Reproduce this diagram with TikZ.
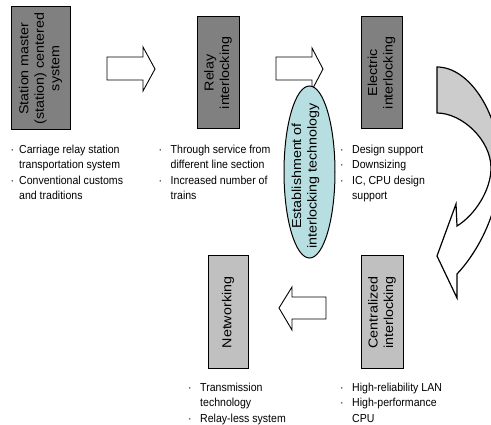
\documentclass[tikz,border=0pt]{standalone}
\usepackage{fontspec}
\setmainfont{Liberation Sans}
\newfontfamily\hfont[FakeStretch=0.91]{Liberation Sans}
\newfontfamily\vfont[FakeStretch=1.1]{Liberation Sans}
\usetikzlibrary{shapes.geometric}
\definecolor{darkfill}{RGB}{128,128,128}
\definecolor{lightfill}{RGB}{192,192,192}
\definecolor{arrowgray}{RGB}{204,204,204}
\definecolor{estfill}{RGB}{183,222,224}
\newcommand{\bl}[1]{\llap{·\hspace{#1pt}}}
\begin{document}
\begin{tikzpicture}[x=1pt,y=-1pt,line join=miter,
  dbox/.style={draw=black,line width=1pt,fill=darkfill,inner sep=0pt},
  lbox/.style={draw=black,line width=1pt,fill=lightfill,inner sep=0pt},
  vtext/.style={rotate=90,align=center,inner sep=0pt,font=\vfont\fontsize{13}{15.5}\selectfont},
  btext/.style={anchor=north west,align=left,inner sep=0pt,font=\hfont\fontsize{11.6}{15.5}\selectfont},
  blockarrow/.style={draw=black,line width=0.9pt,fill=white}]
\useasboundingbox (0,0) rectangle (491,425);
% curved arrow
\begin{scope}
\clip (0,0) rectangle (491,425);
\fill[arrowgray] (437,67) .. controls (470,67) and (500,115) .. (500,165) -- (491,168) .. controls (491,140) and (462,113) .. (437,113) -- cycle;
\fill[white] (491,168) .. controls (491,190) and (475,215) .. (457,226) -- (456,204) -- (437,256) -- (457,298) -- (457,274) .. controls (475,255) and (500,215) .. (500,165) -- cycle;
\draw[line width=1.2pt] (437,113) -- (437,67) .. controls (470,67) and (500,115) .. (500,165) .. controls (500,215) and (475,255) .. (457,274) -- (457,298) -- (437,256) -- (456,204) -- (457,226) .. controls (475,215) and (491,190) .. (491,168) .. controls (491,140) and (462,113) .. (437,113) -- cycle;
\end{scope}
% boxes
\node[dbox,minimum width=59,minimum height=123] (sm) at (40.5,68.5) {};
\node[vtext] (smt) at (sm.center) {Station master\\(station) centered\\system};
\node[dbox,minimum width=42,minimum height=112] (ri) at (218,73) {};
\node[vtext] (rit) at (ri.center) {Relay\\interlocking};
\node[dbox,minimum width=41,minimum height=112] (ei) at (381.5,73) {};
\node[vtext] (eit) at (ei.center) {Electric\\interlocking};
\node[lbox,minimum width=40,minimum height=113] (nw) at (228,312.5) {};
\node[vtext] (nwt) at (nw.center) {Networking};
\node[lbox,minimum width=42,minimum height=113] (ci) at (382,312.5) {};
\node[vtext] (cit) at (ci.center) {Centralized\\interlocking};
% block arrows
\draw[blockarrow] (107,57) -- (143,57) -- (143,47) -- (155,69) -- (143,91) -- (143,80) -- (107,80) -- cycle;
\draw[blockarrow] (276,57) -- (312,57) -- (312,48) -- (323,69) -- (312,90) -- (312,80) -- (276,80) -- cycle;
\draw[blockarrow] (326,297) -- (292,297) -- (292,287) -- (279,308) -- (292,330) -- (292,319) -- (326,319) -- cycle;
% ellipse
\node[ellipse,draw=black,line width=1pt,fill=estfill,minimum width=51,minimum height=172,inner sep=0pt] (est) at (309.5,172) {};
\node[vtext] (estt) at (305.5,176) {Establishment of\\interlocking technology};
% texts
\node[btext] (t1) at (19,144.5) {\bl{5}Carriage relay station\\transportation system\\\bl{5}Conventional customs\\and traditions};
\node[btext] (t2) at (170.5,144.5) {\bl{8.5}Through service from\\different line section\\\bl{8.5}Increased number of\\trains};
\node[btext] (t3) at (352,144.5) {\bl{8.5}Design support\\\bl{8.5}Downsizing\\\bl{8.5}IC, CPU design\\support};
\node[btext] (t4) at (200,382.5) {\bl{8.5}Transmission\\technology\\\bl{8.5}Relay-less system};
\node[btext] (t5) at (352,382.5) {\bl{8.5}High-reliability LAN\\\bl{8.5}High-performance\\CPU};
\end{tikzpicture}
\end{document}
